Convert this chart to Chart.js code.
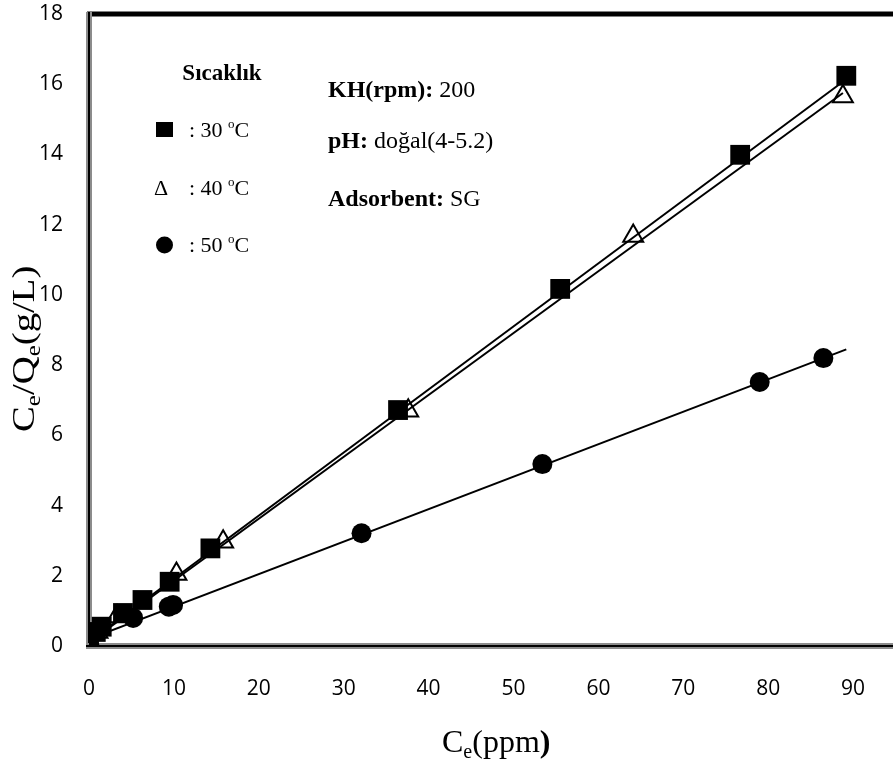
<!DOCTYPE html>
<html><head><meta charset="utf-8">
<script src="https://cdn.jsdelivr.net/npm/chart.js@4/dist/chart.umd.min.js"></script>
<style>
html,body{margin:0;padding:0;background:#fff;overflow:hidden;width:893px;height:769px}
#wrap{position:absolute;left:0;top:0;width:960px;height:769px}
</style></head>
<body><div id="wrap"><canvas id="c" width="960" height="769"></canvas></div>
<script>
// ---- data ----
const xTickValues = [0,10,20,30,40,50,60,70,80,90,100];
const yTickValues = [0,2,4,6,8,10,12,14,16,18];
const seriesLabels = ['30', '40', '50'];

const x30 = [0.0, 0.8, 1.5, 4.0, 6.3, 9.5, 14.3, 36.4, 55.5, 76.7, 89.2];
const y30 = [0.05, 0.40, 0.55, 0.94, 1.31, 1.83, 2.78, 6.72, 10.17, 13.99, 16.24];

const x40 = [0.2, 1.0, 3.3, 10.3, 15.8, 37.6, 64.1, 88.8];
const y40 = [0.08, 0.40, 0.84, 2.05, 2.97, 6.70, 11.68, 15.65];

const x50 = [0.0, 5.2, 9.4, 9.9, 32.1, 53.4, 79.0, 86.5];
const y50 = [0.05, 0.80, 1.12, 1.17, 3.21, 5.18, 7.52, 8.20];

// fitted straight lines (end points)
const fit30x = [0.0, 88.4];
const fit30y = [0.12, 16.0];
const fit40x = [0.0, 88.8];
const fit40y = [0.10, 15.75];
const fit50x = [0.0, 89.2];
const fit50y = [0.20, 8.45];

const pts = (xs, ys) => xs.map((x, i) => ({x: x, y: ys[i]}));

const serif = '"Liberation Serif", "Times New Roman", serif';
const tickFont = {family: '"Open Sans", sans-serif', size: 21};

const noPad = s => { s.paddingTop = 0; s.paddingBottom = 0; s.paddingLeft = 0; s.paddingRight = 0; };

const framePlugin = {
  id: 'frame',
  beforeDatasetsDraw(chart) {
    const ctx = chart.ctx, a = chart.chartArea;
    ctx.save();
    // top border
    ctx.fillStyle = '#7f7f7f';
    ctx.fillRect(a.left - 2, a.top - 3, 1000, 6);
    ctx.fillStyle = '#000';
    ctx.fillRect(a.left - 2, a.top - 2, 1000, 4);
    // left axis (double look)
    ctx.fillStyle = '#8c8c8c';
    ctx.fillRect(a.left - 3, a.top - 2, 6, a.bottom - a.top + 4);
    ctx.fillStyle = '#000';
    ctx.fillRect(a.left - 1, a.top - 2, 2, a.bottom - a.top + 2);
    // bottom axis
    ctx.fillStyle = '#8c8c8c';
    ctx.fillRect(a.left - 3, a.bottom - 3, 1000, 6);
    ctx.fillStyle = '#000';
    ctx.fillRect(a.left - 3, a.bottom - 1, 1000, 2);
    ctx.restore();
  },
  afterDraw(chart) {
    const ctx = chart.ctx;
    ctx.save();
    ctx.fillStyle = '#000';
    ctx.textBaseline = 'alphabetic';
    // legend block
    ctx.font = 'bold 23px ' + serif;
    ctx.textAlign = 'center';
    ctx.fillText('Sıcaklık', 222, 80);
    ctx.textAlign = 'left';
    const tempRow = (label, y) => {
      ctx.font = '22px ' + serif;
      let x = 189;
      const t1 = ': ' + label + ' ';
      ctx.fillText(t1, x, y); x += ctx.measureText(t1).width;
      ctx.font = '13px ' + serif;
      ctx.fillText('o', x, y - 9); x += ctx.measureText('o').width;
      ctx.font = '22px ' + serif;
      ctx.fillText('C', x, y);
    };
    ctx.fillRect(156, 122, 17, 15);
    tempRow(seriesLabels[0], 137);
    ctx.font = '22px ' + serif;
    ctx.fillText('Δ', 154, 195);
    tempRow(seriesLabels[1], 195);
    ctx.beginPath(); ctx.arc(164.5, 245, 8.5, 0, Math.PI * 2); ctx.fill();
    tempRow(seriesLabels[2], 252);

    // condition notes
    const note = (b, r, y) => {
      let x = 328;
      ctx.font = 'bold 24px ' + serif;
      ctx.fillText(b, x, y); x += ctx.measureText(b).width;
      ctx.font = '24px ' + serif;
      ctx.fillText(r, x, y);
    };
    note('KH(rpm):', ' 200', 97);
    note('pH:', ' doğal(4-5.2)', 148);
    note('Adsorbent:', ' SG', 206);

    // x axis title: Ce(ppm)
    {
      const big = '32px ' + serif, small = '20px ' + serif;
      let x = 442; const y = 752;
      ctx.font = big; ctx.fillText('C', x, y); x += ctx.measureText('C').width;
      ctx.font = small; ctx.fillText('e', x, y + 6); x += ctx.measureText('e').width;
      ctx.font = big; ctx.fillText('(ppm', x, y); x += ctx.measureText('(ppm').width;
      ctx.font = 'bold ' + big; ctx.fillText(')', x, y);
    }
    // y axis title: Ce/Qe(g/L)
    {
      ctx.save();
      ctx.translate(34, 432);
      ctx.rotate(-Math.PI / 2);
      ctx.scale(1.25, 1);
      const big = '31px ' + serif, small = '20px ' + serif;
      const parts = [['C', big, 0], ['e', small, 6], ['/Q', big, 0], ['e', small, 6], ['(g/L)', big, 0]];
      let x = 0;
      parts.forEach(p => { ctx.font = p[1]; ctx.fillText(p[0], x, p[2]); x += ctx.measureText(p[0]).width; });
      ctx.restore();
    }
    ctx.restore();
  }
};

new Chart(document.getElementById('c'), {
  type: 'scatter',
  data: {
    datasets: [
      {label: 'fit30', data: pts(fit30x, fit30y), showLine: true, pointRadius: 0, borderColor: '#000', borderWidth: 2, order: 0},
      {label: 'fit40', data: pts(fit40x, fit40y), showLine: true, pointRadius: 0, borderColor: '#000', borderWidth: 2, order: 0},
      {label: 'fit50', data: pts(fit50x, fit50y), showLine: true, pointRadius: 0, borderColor: '#000', borderWidth: 2, order: 0},
      {label: seriesLabels[2] + ' °C', data: pts(x50, y50), pointStyle: 'circle', pointRadius: 10, backgroundColor: '#000', borderColor: '#000', borderWidth: 0, order: 3},
      {label: seriesLabels[1] + ' °C', data: pts(x40, y40), pointStyle: 'triangle', pointRadius: 11.5, backgroundColor: '#fff', borderColor: '#000', borderWidth: 2, order: 2},
      {label: seriesLabels[0] + ' °C', data: pts(x30, y30), pointStyle: 'rect', pointRadius: 14, backgroundColor: '#000', borderColor: '#000', borderWidth: 0, order: 1}
    ]
  },
  options: {
    responsive: false,
    animation: false,
    devicePixelRatio: 1,
    layout: {autoPadding: false, padding: {top: 14, right: 22, left: 0, bottom: 0}},
    plugins: {legend: {display: false}, tooltip: {enabled: false}},
    scales: {
      x: {
        type: 'linear', min: 0, max: 100,
        afterBuildTicks: s => { s.ticks = xTickValues.map(v => ({value: v})); },
        afterFit: s => { s.height = 123; noPad(s); },
        grid: {display: false, drawTicks: false},
        border: {display: false},
        ticks: {font: tickFont, color: '#000', padding: 30, maxRotation: 0, autoSkip: false}
      },
      y: {
        type: 'linear', min: 0, max: 18,
        afterBuildTicks: s => { s.ticks = yTickValues.map(v => ({value: v})); },
        afterFit: s => { s.width = 89; noPad(s); },
        grid: {display: false, drawTicks: false},
        border: {display: false},
        ticks: {font: tickFont, color: '#000', padding: 26, autoSkip: false}
      }
    }
  },
  plugins: [framePlugin]
});
</script>
</body></html>
